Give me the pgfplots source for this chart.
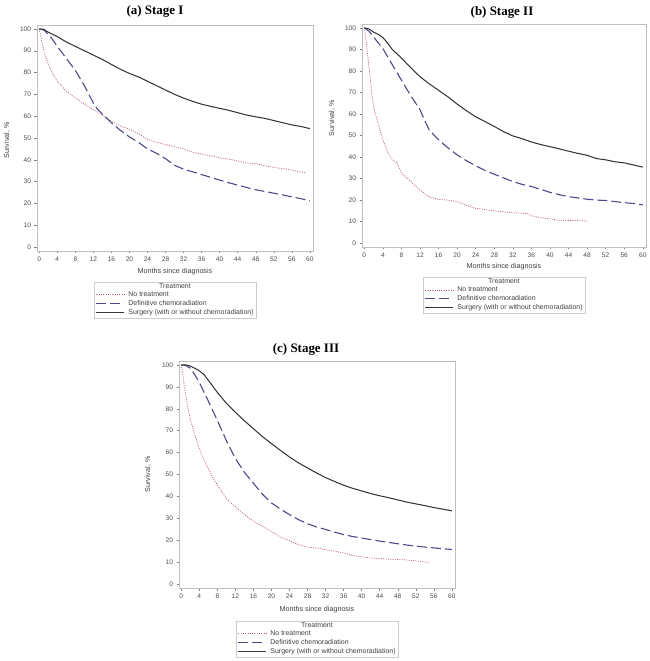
\documentclass[border=0pt]{standalone}
\usepackage{pgfplots}
\pgfplotsset{compat=1.18}
\usepackage{fontspec}
\setmainfont{Liberation Sans}
\newfontfamily\titlefont{Liberation Serif}
\usetikzlibrary{fit}
\definecolor{cNo}{HTML}{B8586A}
\definecolor{cCh}{HTML}{4B4B8A}
\definecolor{cSu}{HTML}{363636}
\pgfplotsset{km/.style={
 scale only axis, anchor=south west,
 xmin=-0.5, xmax=60.7, ymin=-1.8, ymax=101.8,
 xtick={0,4,...,60}, ytick={0,10,...,100},
 tick pos=left, tick align=outside, major tick length=2.5bp,
 axis line style={draw=black!25},
 every tick/.style={draw=black!50, line width=0.4bp},
 ticklabel style={font=\fontsize{6.6}{7}\selectfont, text=black!70},
 /pgf/number format/assume math mode=true,
 xlabel={Months since diagnosis}, ylabel={Survival, \%},
 label style={font=\fontsize{7.2}{8}\selectfont, text=black!75},
 legend style={draw=none, fill=none, font=\fontsize{7}{8}\selectfont, text=black!75, row sep=1.2bp, inner sep=1bp, anchor=north, nodes={inner sep=0.6bp}, column sep=3bp},
 legend cell align=left,
 legend image code/.code={\draw[##1] (0bp,0bp) -- (28bp,0bp);},
},
sNo/.style={cNo, line width=0.7bp, dash pattern=on 1bp off 1.3bp},
sCh/.style={cCh, line width=1.1bp, dash pattern=on 10bp off 4bp},
sSu/.style={cSu, line width=1.05bp}}
\begin{document}
\begin{tikzpicture}
% ---------------- (a) Stage I
\begin{axis}[km, at={(37bp,410bp)}, width=276bp, height=226bp,
 xlabel style={at={(axis description cs:0.5,-0.093)}, anchor=center},
 ylabel style={at={(axis description cs:-0.109,0.49)}, anchor=center},
 legend style={at={(axis description cs:0.5,-0.172)}, name=legA}]
\addplot[sNo] coordinates {(0,100)(0.5,95)(1,90)(2,84)(3,79.5)(4,76)(6,71.5)(8,68.4)(10,65.5)(12,63)(14,60.5)(16,57.7)(18,55.5)(20,54)(22,52)(24,49.4)(26,48)(28,47)(30,46)(32,45)(34,43.5)(36,42.6)(38,41.8)(40,41)(42,40.3)(44,39.5)(46,38.5)(48,38.3)(50,37.3)(52,36.5)(54,36)(56,35.3)(58,34.4)(59,34.2)};
\addlegendentry{No treatment}
\addplot[sCh] coordinates {(0,100)(1,99.5)(2,97.5)(3,95)(4,92)(6,86.5)(8,81)(10,74)(12,66)(13,63)(14,61)(16,57)(18,53.5)(20,50.5)(22,48)(24,45)(26,43)(28,40.5)(30,37.5)(32,35.7)(34,34.5)(36,33.2)(38,32)(40,30.7)(42,29.5)(44,28.4)(46,27.3)(48,26.3)(50,25.5)(52,24.7)(54,23.9)(56,23)(58,22.2)(60,21.2)};
\addlegendentry{Definitive chemoradiation}
\addplot[sSu] coordinates {(0,100)(1,99.8)(2,98.5)(4,96.5)(6,94)(8,92)(10,90)(12,88)(14,86)(16,83.7)(18,81.5)(20,79.6)(22,78)(24,76)(26,74)(28,72)(30,70)(32,68.3)(34,66.8)(36,65.5)(38,64.5)(40,63.6)(42,62.7)(44,61.6)(46,60.5)(48,59.7)(50,59)(52,58)(54,57)(56,56)(58,55.3)(60,54.3)};
\addlegendentry{Surgery (with or without chemoradiation)}
\end{axis}
\node[font=\fontsize{7}{8}\selectfont, text=black!75, anchor=south, inner sep=0.8bp] (tA) at (legA.north) {Treatment};
\node[draw=black!20, line width=0.4bp, fit=(legA)(tA), inner sep=0.8bp] {};
\node[font=\titlefont\bfseries\fontsize{13}{14}\selectfont] at (155bp,650bp) {(a) Stage I};
% ---------------- (b) Stage II
\begin{axis}[km, at={(362bp,414bp)}, width=284bp, height=223bp,
 xlabel style={at={(axis description cs:0.5,-0.09)}, anchor=center},
 ylabel style={at={(axis description cs:-0.106,0.578)}, anchor=center},
 legend style={at={(axis description cs:0.5,-0.17)}, name=legB}]
\addplot[sNo] coordinates {(0,100)(0.5,92)(1,82)(1.5,72)(2,63)(3,55.5)(4,48)(5,42.5)(6,38.6)(7,37.5)(8,32.5)(9,30.5)(10,28.8)(11,26.5)(12,24.7)(13,23)(14,21.5)(16,20.3)(18,20)(20,19.3)(22,17.5)(24,16.2)(26,15.6)(28,15)(30,14.6)(32,14)(34,13.9)(35,13.9)(36,12.7)(38,11.8)(40,11.3)(42,10.6)(44,10.5)(46,10.5)(48,10.2)};
\addlegendentry{No treatment}
\addplot[sCh] coordinates {(0,100)(1,98.5)(2,95.8)(3,93)(4,90.4)(6,83)(8,75.7)(10,68.5)(12,62)(13,57)(14,52.5)(16,48)(18,44.3)(20,41)(22,38.3)(24,35.9)(26,33.8)(28,32)(30,30.3)(32,28.6)(34,27.3)(36,26.3)(38,25)(40,23.6)(42,22.5)(44,21.6)(46,21)(48,20.4)(50,20)(52,19.8)(54,19.3)(56,18.8)(58,18.4)(60,17.8)};
\addlegendentry{Definitive chemoradiation}
\addplot[sSu] coordinates {(0,100)(1,99.5)(2,98)(3,97)(4,95.5)(5,93)(6,90)(8,86)(10,81.5)(12,77.3)(14,74)(16,71)(18,68)(20,64.6)(22,61.5)(24,58.7)(26,56.5)(28,54.2)(30,51.8)(32,49.8)(34,48.5)(36,47)(38,45.8)(40,44.8)(42,43.8)(44,42.7)(46,41.7)(48,40.8)(50,39.3)(52,38.7)(54,37.8)(56,37.3)(58,36.3)(60,35.3)};
\addlegendentry{Surgery (with or without chemoradiation)}
\end{axis}
\node[font=\fontsize{7}{8}\selectfont, text=black!75, anchor=south, inner sep=0.8bp] (tB) at (legB.north) {Treatment};
\node[draw=black!20, line width=0.4bp, fit=(legB)(tB), inner sep=0.8bp] {};
\node[font=\titlefont\bfseries\fontsize{13}{14}\selectfont] at (502bp,649bp) {(b) Stage II};
% ---------------- (c) Stage III
\begin{axis}[km, at={(179bp,73bp)}, width=276bp, height=227bp,
 xlabel style={at={(axis description cs:0.5,-0.097)}, anchor=center},
 ylabel style={at={(axis description cs:-0.112,0.5)}, anchor=center},
 legend style={at={(axis description cs:0.5,-0.18)}, name=legC}]
\addplot[sNo] coordinates {(0,100)(0.5,93)(1,86)(1.5,80)(2,75.4)(3,68)(4,61.8)(5,57)(6,52.8)(7,48.5)(8,45.2)(9,42)(10,39.2)(11,37)(12,35.4)(14,31.7)(16,28.7)(18,26.3)(20,24)(22,21.5)(24,19.8)(26,18)(28,16.8)(30,16.5)(32,15.7)(34,15)(36,14.2)(38,13)(40,12.4)(42,11.9)(44,11.6)(46,11.4)(48,11.2)(50,11)(52,10.6)(54,10.1)(55,9.8)};
\addlegendentry{No treatment}
\addplot[sCh] coordinates {(0,100)(1,99.8)(2,98.5)(3,95.5)(4,92)(6,83.5)(8,74.7)(10,65.5)(12,57.3)(14,51)(16,46)(18,41)(20,37)(22,34.2)(24,31.7)(26,29.4)(28,27.5)(30,26.1)(32,24.9)(34,23.7)(36,22.6)(38,21.7)(40,21)(42,20.3)(44,19.6)(46,19)(48,18.4)(50,17.8)(52,17.3)(54,16.9)(56,16.5)(58,16.1)(60,15.8)};
\addlegendentry{Definitive chemoradiation}
\addplot[sSu] coordinates {(0,100)(1,100)(2,99.5)(3,98.5)(4,97.3)(5,95.7)(6,93)(8,87.5)(10,82.5)(12,78.4)(14,74.5)(16,70.9)(18,67.3)(20,64.1)(22,61)(24,58)(26,55.3)(28,53)(30,50.7)(32,48.6)(34,46.8)(36,45.1)(38,43.7)(40,42.5)(42,41.3)(44,40.3)(46,39.4)(48,38.4)(50,37.4)(52,36.6)(54,35.8)(56,34.9)(58,34.2)(60,33.4)};
\addlegendentry{Surgery (with or without chemoradiation)}
\end{axis}
\node[font=\fontsize{7}{8}\selectfont, text=black!75, anchor=south, inner sep=0.8bp] (tC) at (legC.north) {Treatment};
\node[draw=black!20, line width=0.4bp, fit=(legC)(tC), inner sep=0.8bp] {};
\node[font=\titlefont\bfseries\fontsize{13}{14}\selectfont] at (306bp,312bp) {(c) Stage III};
\pgfresetboundingbox
\useasboundingbox (0,0) rectangle (650bp,661bp);
\end{tikzpicture}
\end{document}
